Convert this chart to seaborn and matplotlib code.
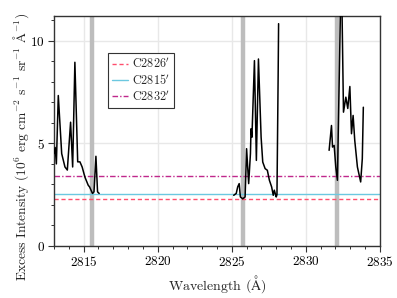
import numpy as np
import pandas as pd
import seaborn as sns
import matplotlib
matplotlib.use("Agg")
import matplotlib.pyplot as plt
from matplotlib.ticker import MultipleLocator

# --- data ---
wl_seg1 = [2812.9, 2813.0, 2813.08, 2813.16, 2813.29, 2813.52, 2813.74, 2813.9, 2814.12, 2814.26,
           2814.41, 2814.6, 2814.75, 2814.9, 2815.09, 2815.31, 2815.4, 2815.6, 2815.7, 2815.83,
           2815.94, 2816.05]
int_seg1 = [4.6, 4.5, 4.8, 4.0, 7.33, 4.5, 3.85, 3.7, 6.03, 3.85,
            8.95, 4.1, 4.1, 3.85, 3.35, 2.96, 2.88, 2.56, 2.64, 4.37,
            2.64, 2.56]

wl_seg2 = [2825.13, 2825.3, 2825.4, 2825.5, 2825.58, 2825.74, 2825.9, 2826.0, 2826.14, 2826.26,
           2826.3, 2826.36, 2826.53, 2826.66, 2826.8, 2826.98, 2827.09, 2827.25, 2827.4, 2827.54,
           2827.69, 2827.8, 2827.87, 2828.0, 2828.05, 2828.13, 2828.16]
int_seg2 = [2.47, 2.56, 2.88, 3.04, 2.39, 2.3, 2.39, 4.74, 3.04, 4.5,
            5.71, 5.3, 9.03, 4.17, 9.11, 5.3, 4.09, 3.77, 3.69, 3.2,
            2.88, 2.47, 2.72, 2.39, 2.5, 8.3, 10.83]

wl_seg3 = [2831.57, 2831.73, 2831.8, 2831.91, 2832.02, 2832.13, 2832.36, 2832.42, 2832.54, 2832.7,
           2832.83, 2832.97, 2833.08, 2833.19, 2833.3, 2833.48, 2833.7, 2833.81, 2833.88]
int_seg3 = [4.66, 5.87, 4.82, 4.9, 3.85, 3.2, 12.5, 12.5, 6.52, 7.25,
            6.7, 7.77, 5.47, 6.36, 5.15, 3.85, 3.12, 4.25, 6.76]

ref_labels = ["C2826$'$", "C2815$'$", "C2832$'$"]
ref_levels = [2.31, 2.54, 3.40]
band_positions = [2815.58, 2825.74, 2832.13]

sns.set_theme(style="white")
plt.rcParams['font.family'] = ['cmr10', 'DejaVu Serif']
plt.rcParams['mathtext.fontset'] = 'cm'
plt.rcParams['axes.unicode_minus'] = False
plt.rcParams['axes.formatter.use_mathtext'] = True

fig = plt.figure(figsize=(3.97, 2.98), dpi=100)
ax = fig.add_axes([0.136, 0.1745, 0.821, 0.7715])

ax.grid(True, color='#e8e8e8', linewidth=1.0, zorder=0)
ax.set_axisbelow(True)

for b in band_positions:
    ax.axvline(b, color='#bdbdbd', linewidth=3.2, zorder=1)

for i, (wl, it) in enumerate([(wl_seg1, int_seg1), (wl_seg2, int_seg2), (wl_seg3, int_seg3)]):
    df = pd.DataFrame({"wl": wl, "I": it})
    sns.lineplot(data=df, x="wl", y="I", ax=ax, color='black', linewidth=1.1,
                 sort=False, estimator=None, zorder=3)

styles = [dict(color='#ff4d6d', linestyle=(0, (3, 2)), linewidth=1.0),
          dict(color='#6cc8e0', linestyle='-', linewidth=1.0),
          dict(color='#c0288c', linestyle=(0, (4, 1.5, 1, 1.5)), linewidth=1.0)]
for lab, lvl, st in zip(ref_labels, ref_levels, styles):
    ax.axhline(lvl, label=lab, zorder=2, **st)

ax.set_xlim(2813, 2835)
ax.set_ylim(0, 11.2)
ax.xaxis.set_major_locator(MultipleLocator(5))
ax.xaxis.set_minor_locator(MultipleLocator(1))
ax.yaxis.set_major_locator(MultipleLocator(5))
ax.yaxis.set_minor_locator(MultipleLocator(1))
ax.tick_params(which='both', direction='out', bottom=True, left=True, top=False, right=False,
               colors='#333333', labelcolor='black', labelsize=9.5, pad=2)
ax.tick_params(which='major', length=4.5, width=0.8)
ax.tick_params(which='minor', length=2.5, width=0.7)
for s in ax.spines.values():
    s.set_color('#333333')
    s.set_linewidth(1.0)

ax.set_xlabel("Wavelength ($\\mathrm{\\AA}$)", fontsize=10, labelpad=3)
ax.set_ylabel("Excess Intensity ($10^6$ erg cm$^{-2}$ s$^{-1}$ sr$^{-1}$ $\\mathrm{\\AA}^{-1}$)",
              fontsize=9.7)
ax.yaxis.set_label_coords(-0.072, 0.43)

leg = ax.legend(loc='upper left', bbox_to_anchor=(0.166, 0.84), fontsize=8.8,
                frameon=True, fancybox=False, edgecolor='#333333', framealpha=1,
                handlelength=1.3, handletextpad=0.3, borderpad=0.35, labelspacing=0.15,
                borderaxespad=0)
leg.get_frame().set_linewidth(0.8)

fig.savefig("out.png", dpi=100)
